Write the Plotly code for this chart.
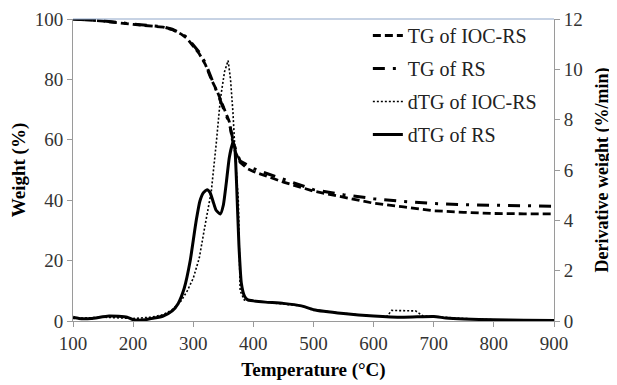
import plotly.graph_objects as go

# TG of IOC-RS (weight %)
tg_ioc_T = [100, 150, 200, 230, 250, 265, 280, 290, 300, 310, 320, 330, 340, 350, 360, 365, 370, 378, 390, 400, 420, 450, 500, 550, 600, 650, 700, 750, 800, 850, 900]
tg_ioc_W = [100, 99.3, 98.2, 97.8, 97.3, 96.5, 95, 93.5, 91, 88.5, 85, 80, 76, 71, 66, 60, 56, 52.5, 50.5, 49.5, 48, 46, 43, 41, 39, 37.8, 36.5, 36, 35.6, 35.5, 35.5]

# TG of RS (weight %)
tg_rs_T = [100, 150, 200, 230, 250, 265, 280, 290, 300, 310, 320, 330, 340, 350, 360, 365, 370, 378, 390, 400, 420, 450, 500, 550, 600, 650, 700, 750, 800, 850, 900]
tg_rs_W = [100, 99.4, 98.3, 97.9, 97.4, 96.6, 95.2, 93.8, 91.5, 89, 85.5, 80.5, 75, 70.5, 65.5, 61, 57, 53, 51.5, 50.5, 49, 47, 43.5, 41.8, 40.5, 39.6, 38.9, 38.5, 38.3, 38.2, 38]

# dTG of IOC-RS (%/min)
dtg_ioc_T = [100, 150, 200, 230, 250, 265, 280, 290, 300, 310, 320, 330, 338, 345, 352, 358, 362, 366, 370, 375, 378, 385, 400, 420, 450, 480, 500, 550, 600, 622, 630, 670, 682, 700, 750, 800, 850, 900]
dtg_ioc_D = [0.1, 0.15, 0.1, 0.15, 0.25, 0.45, 0.8, 1.2, 1.7, 2.5, 3.85, 5.15, 7.0, 8.8, 9.9, 10.35, 9.6, 8.3, 6.5, 4.76, 1.2, 0.83, 0.8, 0.75, 0.7, 0.6, 0.45, 0.3, 0.2, 0.18, 0.42, 0.4, 0.2, 0.17, 0.1, 0.05, 0.03, 0.02]

# dTG of RS (%/min)
dtg_rs_T = [100, 110, 130, 160, 190, 200, 220, 250, 265, 275, 285, 295, 300, 305, 311, 317, 323, 328, 333, 338, 345, 350, 355, 360, 366, 369, 372, 376, 380, 385, 390, 400, 420, 450, 480, 500, 550, 600, 650, 700, 720, 750, 800, 850, 900]
dtg_rs_D = [0.15, 0.1, 0.1, 0.2, 0.15, 0.05, 0.05, 0.2, 0.4, 0.7, 1.3, 2.4, 3.2, 4.0, 4.76, 5.1, 5.22, 5.1, 4.75, 4.4, 4.25, 4.6, 5.5, 6.5, 7.1, 6.9, 5.5, 3.0, 1.5, 1.0, 0.85, 0.8, 0.75, 0.7, 0.6, 0.45, 0.3, 0.2, 0.15, 0.18, 0.12, 0.08, 0.05, 0.03, 0.02]

x_ticks = [100, 200, 300, 400, 500, 600, 700, 800, 900]
y_ticks = [0, 20, 40, 60, 80, 100]
y2_ticks = [0, 2, 4, 6, 8, 10, 12]

FONT = "Liberation Serif"

fig = go.Figure()
fig.add_trace(go.Scatter(x=tg_ioc_T, y=tg_ioc_W, mode="lines", name="TG of IOC-RS",
                         line=dict(color="black", width=2.8, dash="8px,4px"), legendgroup="a"))
fig.add_trace(go.Scatter(x=tg_rs_T, y=tg_rs_W, mode="lines", name="TG of RS",
                         line=dict(color="black", width=3, dash="12px,8px,3px,8px"), legendgroup="b"))
fig.add_trace(go.Scatter(x=dtg_ioc_T, y=dtg_ioc_D, mode="lines", name="dTG of IOC-RS", yaxis="y2",
                         line=dict(color="black", width=1.6, dash="2px,2px"), legendgroup="c"))
fig.add_trace(go.Scatter(x=dtg_rs_T, y=dtg_rs_D, mode="lines", name="dTG of RS", yaxis="y2",
                         line=dict(color="black", width=3, shape="spline", smoothing=0.5), legendgroup="d"))

axis_common = dict(showgrid=False, zeroline=False, showline=True, linecolor="#9a9a9a", linewidth=1,
                   ticks="outside", ticklen=5, tickcolor="#9a9a9a", automargin=False,
                   tickfont=dict(family=FONT, size=19, color="#333333"))

# page body has an 8px margin, so the figure is 8px smaller than the window
fig.update_layout(
    width=609, height=377,
    margin=dict(l=65, r=63, t=8, b=64),
    paper_bgcolor="white", plot_bgcolor="white",
    font=dict(family=FONT, size=19, color="black"),
    showlegend=True,
    legend=dict(x=0.613, y=1.01, xanchor="left", yanchor="top", bgcolor="rgba(0,0,0,0)",
                font=dict(family=FONT, size=20, color="#222222"), traceorder="grouped",
                tracegroupgap=4, itemwidth=30),
    xaxis=dict(range=[100, 900], tickvals=x_ticks,
               title=dict(text="<b>Temperature (°C)</b>", font=dict(family=FONT, size=19), standoff=9),
               **axis_common),
    yaxis=dict(range=[0, 100], tickvals=y_ticks,
               title=dict(text="<b>Weight (%)</b>", font=dict(family=FONT, size=19), standoff=7),
               **axis_common),
    yaxis2=dict(range=[0, 12], tickvals=y2_ticks, overlaying="y", side="right",
                title=dict(text="<b>Derivative weight (%/min)</b>", font=dict(family=FONT, size=18), standoff=13),
                **axis_common),
)
fig.add_shape(type="line", xref="paper", yref="paper", x0=0, x1=1, y0=1, y1=1,
              line=dict(color="#8fa6c9", width=1))

fig.write_html("out.html")
